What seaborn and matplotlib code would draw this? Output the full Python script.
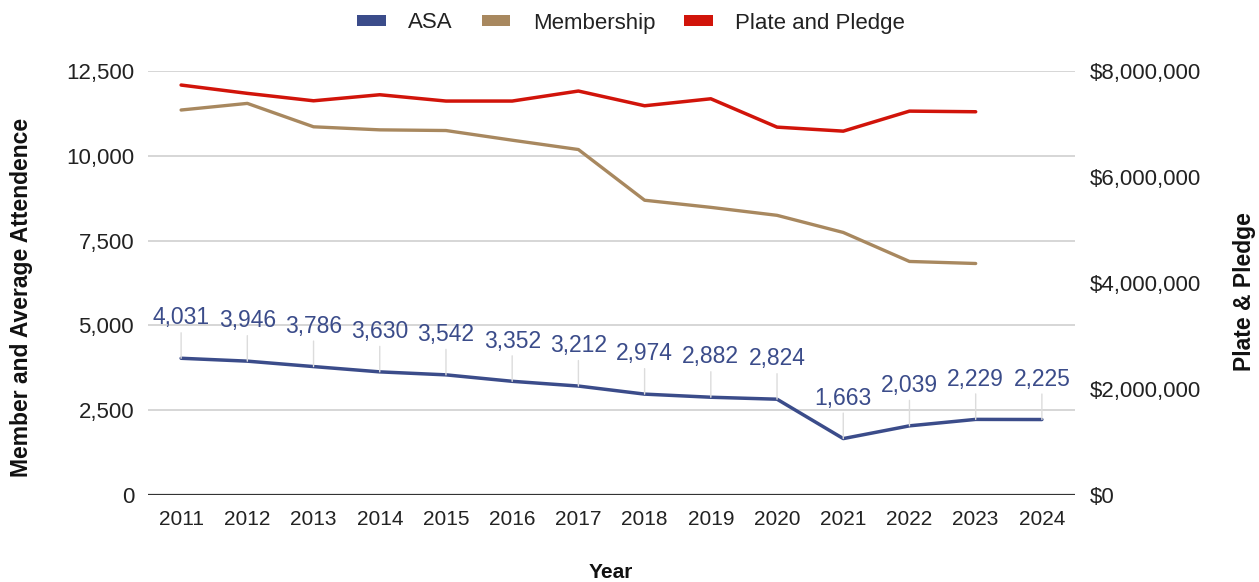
import matplotlib
matplotlib.use("Agg")
import matplotlib.pyplot as plt
import seaborn as sns
import pandas as pd
import numpy as np
from matplotlib.patches import Patch
from matplotlib.ticker import FuncFormatter, MultipleLocator

years = [2011, 2012, 2013, 2014, 2015, 2016, 2017, 2018, 2019, 2020, 2021, 2022, 2023, 2024]
asa = [4031, 3946, 3786, 3630, 3542, 3352, 3212, 2974, 2882, 2824, 1663, 2039, 2229, 2225]
membership = [11350, 11545, 10855, 10765, 10745, 10460, 10185, 8690, 8480, 8245, 7740, 6885, 6825]
plate_pledge = [7735000, 7578000, 7438000, 7552000, 7433000, 7433000, 7622000, 7344000,
                7476000, 6941000, 6865000, 7243000, 7231000]

c_asa = "#3b4c8a"
c_mem = "#a8885f"
c_pp = "#d1140a"

sns.set_theme(style="white")
plt.rcParams["font.family"] = ["Liberation Sans", "DejaVu Sans"]

df_asa = pd.DataFrame({"Year": years, "ASA": asa})
df_mem = pd.DataFrame({"Year": years[:len(membership)], "Membership": membership})
df_pp = pd.DataFrame({"Year": years[:len(plate_pledge)], "Plate": plate_pledge})

fig = plt.figure(figsize=(12.59, 5.82), dpi=100)
ax = fig.add_axes([148 / 1259, 1 - 495 / 582, (1075 - 148) / 1259, (495 - 71) / 582])
ax2 = ax.twinx()

sns.lineplot(data=df_pp, x="Year", y="Plate", ax=ax2, color=c_pp, linewidth=2.5, legend=False)
sns.lineplot(data=df_mem, x="Year", y="Membership", ax=ax, color=c_mem, linewidth=2.4, legend=False)
sns.lineplot(data=df_asa, x="Year", y="ASA", ax=ax, color=c_asa, linewidth=2.5, legend=False)

ax.set_xlim(years[0] - 0.5, years[-1] + 0.5)
ax.set_ylim(0, 12500)
ax2.set_ylim(0, 8000000)
ax.yaxis.set_major_locator(MultipleLocator(2500))
ax2.yaxis.set_major_locator(MultipleLocator(2000000))
ax.set_xticks(years)
ax.set_xticklabels([str(y) for y in years])
ax.yaxis.set_major_formatter(FuncFormatter(lambda v, p: f"{int(v):,}"))
ax2.yaxis.set_major_formatter(FuncFormatter(lambda v, p: f"${int(v):,}"))

ax.grid(axis="y", color="#cfcfcf", linewidth=1.2)
ax.grid(axis="x", visible=False)
ax2.grid(False)
ax.set_axisbelow(True)
for a in (ax, ax2):
    for s in a.spines.values():
        s.set_visible(False)
ax.axhline(0, color="#333333", linewidth=1.6, zorder=3)

ax.tick_params(axis="y", length=0, pad=10, labelsize=16, labelcolor="#222222")
ax2.tick_params(axis="y", length=0, pad=11, labelsize=16, labelcolor="#222222")
ax.tick_params(axis="x", length=0, pad=11, labelsize=15, labelcolor="#222222")
ax.set_xlabel("")
ax.set_ylabel("")
ax2.set_ylabel("")

for x, v in zip(years, asa):
    ax.annotate(f"{v:,}", xy=(x, v), xytext=(0, 29), textcoords="offset points",
                ha="center", va="center", fontsize=16.5, color=c_asa,
                arrowprops=dict(arrowstyle="-", color="#dcdcdc", lw=1.0, shrinkA=0, shrinkB=0),
                zorder=4)

fig.text(22 / 1259, 1 - 297 / 582, "Member and Average Attendence", rotation=90,
         ha="center", va="center", fontsize=16.5, fontweight="bold", color="#111111")
fig.text(1245 / 1259, 1 - 292 / 582, "Plate & Pledge", rotation=90,
         ha="center", va="center", fontsize=16.5, fontweight="bold", color="#111111")
fig.text(611 / 1259, 1 - 573 / 582, "Year", ha="center", va="center", fontsize=15,
         fontweight="bold", color="#111111")

handles = [Patch(facecolor=c_asa, edgecolor="none", label="ASA"),
           Patch(facecolor=c_mem, edgecolor="none", label="Membership"),
           Patch(facecolor=c_pp, edgecolor="none", label="Plate and Pledge")]
fig.legend(handles=handles, loc="center", bbox_to_anchor=(631 / 1259, 1 - 23 / 582),
           ncol=3, frameon=False, fontsize=16, handlelength=1.3, handleheight=0.4,
           handletextpad=1.0, columnspacing=1.3, labelcolor="#222222")

fig.savefig("out.png", dpi=100)
